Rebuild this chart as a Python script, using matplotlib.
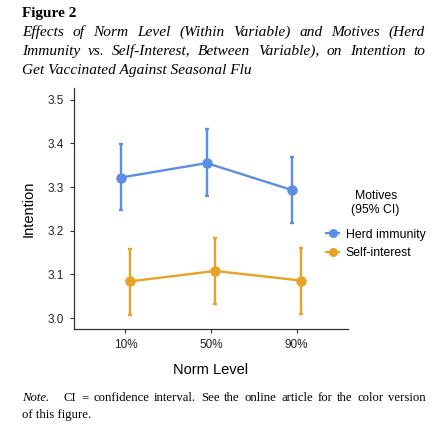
import matplotlib
matplotlib.use('Agg')
import matplotlib.pyplot as plt
from matplotlib.lines import Line2D

# data
norm_levels = ['10%', '50%', '90%']
herd_mean = [3.322, 3.355, 3.293]
herd_lo = [3.248, 3.280, 3.218]
herd_hi = [3.398, 3.432, 3.368]
self_mean = [3.084, 3.108, 3.086]
self_lo = [3.008, 3.033, 3.010]
self_hi = [3.159, 3.183, 3.160]

blue = '#5b8fe4'
orange = '#e8a327'

W, H = 448, 432
fig = plt.figure(figsize=(W / 100, H / 100), dpi=100)
ax = fig.add_axes([74 / W, 1 - 329 / H, (348 - 74) / W, (329 - 88) / H])

sans = 'Liberation Sans'
serif = 'Liberation Serif'

x = [1, 2, 3]
dodge = 0.05
series = [
    ('Herd immunity', herd_mean, herd_lo, herd_hi, blue, -dodge),
    ('Self-interest', self_mean, self_lo, self_hi, orange, dodge),
]
for name, m, lo, hi, col, off in series:
    xs = [v + off for v in x]
    yerr = [[a - b for a, b in zip(m, lo)], [b - a for a, b in zip(m, hi)]]
    ax.errorbar(xs, m, yerr=yerr, color=col, lw=1.7, marker='o', ms=6.5,
                elinewidth=1.7, capsize=1.6, capthick=1.7)

ax.set_xlim(0.4, 3.6)
ax.set_ylim(2.975, 3.527)
ax.set_xticks(x)
ax.set_xticklabels(norm_levels, fontsize=8.5, family=sans, color='#222222')
ax.set_yticks([3.0, 3.1, 3.2, 3.3, 3.4, 3.5])
ax.set_yticklabels(['3.0', '3.1', '3.2', '3.3', '3.4', '3.5'], fontsize=8.5,
                   family=sans, color='#222222')
ax.tick_params(length=3, width=0.8, color='#333333', pad=4)
for s in ['top', 'right']:
    ax.spines[s].set_visible(False)
for s in ['left', 'bottom']:
    ax.spines[s].set_color('#333333')
    ax.spines[s].set_linewidth(0.9)
ax.set_ylabel('Intention', fontsize=10.5, family=sans, labelpad=9)
ax.set_xlabel('Norm Level', fontsize=10.5, family=sans, labelpad=9)

handles = [Line2D([], [], color=blue, marker='o', ms=5.5, lw=1.6),
           Line2D([], [], color=orange, marker='o', ms=5.5, lw=1.6)]
leg = fig.legend(handles, ['Herd immunity', 'Self-interest'],
                 title='Motives\n(95% CI)', loc='upper left',
                 bbox_to_anchor=(326 / W, 1 - 190 / H), frameon=False,
                 prop={'family': sans, 'size': 8.8}, title_fontsize=8.8,
                 handlelength=1.1, handletextpad=0.5, borderpad=0,
                 borderaxespad=0, labelspacing=0.5)
leg.get_title().set_family(sans)
leg.get_title().set_multialignment('center')
leg.get_title().set_linespacing(1.25)
leg._legend_box.sep = 9

fig.canvas.draw()
renderer = fig.canvas.get_renderer()


def justify(words, y, x0, x1, **kw):
    # place words one by one so the line fills x0..x1
    texts = [fig.text(0, y, w, va='baseline', **kw) for w in words]
    widths = [t.get_window_extent(renderer).width for t in texts]
    gap = (x1 - x0 - sum(widths)) / max(len(words) - 1, 1)
    pos = x0
    for t, w in zip(texts, widths):
        t.set_x(pos / W)
        pos += w + gap


fig.text(22 / W, 1 - 17 / H, 'Figure 2', fontsize=11, fontweight='bold',
         family=serif, va='baseline')
title_lines = [
    'Effects of Norm Level (Within Variable) and Motives (Herd',
    'Immunity vs. Self-Interest, Between Variable), on Intention to',
]
justify(title_lines[0].split(), 1 - 36 / H, 22, 425, fontsize=11.1,
        style='italic', family=serif)
justify(title_lines[1].split(), 1 - 55 / H, 22, 425, fontsize=11.1,
        style='italic', family=serif)
fig.text(22 / W, 1 - 74 / H, 'Get Vaccinated Against Seasonal Flu',
         fontsize=11.1, style='italic', family=serif, va='baseline')

fig.text(22 / W, 1 - 401 / H, 'Note.', fontsize=9.2, style='italic',
         family=serif, va='baseline')
justify('CI = confidence interval. See the online article for the color version'.split(),
        1 - 401 / H, 64, 426, fontsize=9.2, family=serif)
fig.text(22 / W, 1 - 418 / H, 'of this figure.', fontsize=9.2, family=serif,
         va='baseline')

fig.savefig('out.png', dpi=100)
